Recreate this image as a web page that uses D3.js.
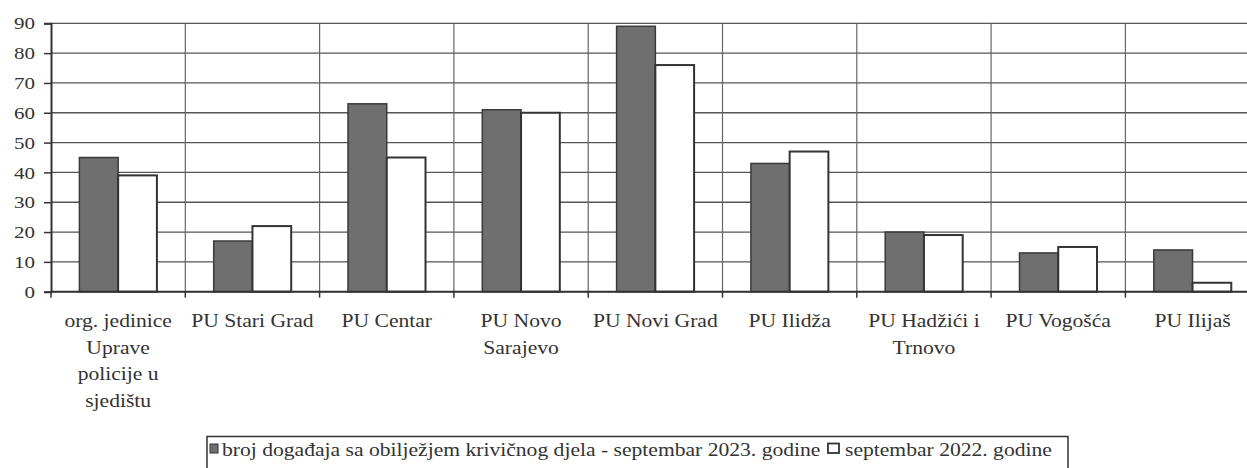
<!DOCTYPE html>
<html>
<head>
<meta charset="utf-8">
<script src="https://cdn.jsdelivr.net/npm/d3@7"></script>
<style>
body { margin: 0; background: #fff; }
text { font-family: "Liberation Serif", "Times New Roman", serif; fill: #333; }
</style>
</head>
<body>
<script>
var categories = ["org. jedinice Uprave policije u sjedištu", "PU Stari Grad", "PU Centar", "PU Novo Sarajevo", "PU Novi Grad", "PU Ilidža", "PU Hadžići i Trnovo", "PU Vogošća", "PU Ilijaš"];
var categoryLines = [["org. jedinice", "Uprave", "policije u", "sjedištu"], ["PU Stari Grad"], ["PU Centar"], ["PU Novo", "Sarajevo"], ["PU Novi Grad"], ["PU Ilidža"], ["PU Hadžići i", "Trnovo"], ["PU Vogošća"], ["PU Ilijaš"]];
var values2023 = [45, 17, 63, 61, 89, 43, 20, 13, 14];
var values2022 = [39, 22, 45, 60, 76, 47, 19, 15, 3];
var seriesNames = ["broj događaja sa obilježjem krivičnog djela - septembar 2023. godine", "septembar 2022. godine"];
var yTicks = [0, 10, 20, 30, 40, 50, 60, 70, 80, 90];

var W = 1247, H = 468;
var plotLeft = 51, plotTop = 23.3, plotBottom = 291.7, bandW = 134.3;
var plotRight = plotLeft + bandW * categories.length;

var svg = d3.select("body").append("svg").attr("width", W).attr("height", H);

var x = d3.scaleBand().domain(categories).range([plotLeft, plotRight]).paddingInner(0).paddingOuter(0);
var y = d3.scaleLinear().domain([0, 90]).range([plotBottom, plotTop]);
var groupW = 77.5;
var x1 = d3.scaleBand().domain([0, 1]).range([(bandW - groupW) / 2, (bandW + groupW) / 2]);

// horizontal grid
svg.selectAll("line.hgrid").data(yTicks).enter().append("line")
  .attr("x1", plotLeft).attr("x2", plotRight)
  .attr("y1", function(d){ return y(d); }).attr("y2", function(d){ return y(d); })
  .attr("stroke", "#555").attr("stroke-width", 1.3);

// vertical grid at category boundaries
svg.selectAll("line.vgrid").data(categories.slice(1)).enter().append("line")
  .attr("x1", function(d){ return x(d); }).attr("x2", function(d){ return x(d); })
  .attr("y1", plotTop).attr("y2", plotBottom)
  .attr("stroke", "#666").attr("stroke-width", 1.2);

// y axis
var yAxis = d3.axisLeft(y).tickValues(yTicks).tickSize(7).tickPadding(9);
var gy = svg.append("g").attr("transform", "translate(" + plotLeft + ",0)").call(yAxis);
gy.select(".domain").attr("stroke", "#333").attr("stroke-width", 2);
gy.selectAll(".tick line").attr("stroke", "#333").attr("stroke-width", 1.5);
gy.selectAll(".tick text").attr("font-size", 17.5).attr("fill", "#333")
  .attr("font-family", "Liberation Serif, serif")
  .each(function(){
    var t = d3.select(this);
    var xx = +t.attr("x");
    t.attr("x", null).attr("transform", "translate(" + xx + ",0) scale(1.2,1)");
  });

// bars
var groups = svg.selectAll("g.cat").data(categories).enter().append("g")
  .attr("transform", function(d){ return "translate(" + x(d) + ",0)"; });

groups.append("rect")
  .attr("x", x1(0)).attr("width", x1.bandwidth())
  .attr("y", function(d, i){ return y(values2023[i]); })
  .attr("height", function(d, i){ return plotBottom - y(values2023[i]); })
  .attr("fill", "#6f6f6f").attr("stroke", "#3a3a3a").attr("stroke-width", 1.5);

groups.append("rect")
  .attr("x", x1(1)).attr("width", x1.bandwidth())
  .attr("y", function(d, i){ return y(values2022[i]); })
  .attr("height", function(d, i){ return plotBottom - y(values2022[i]); })
  .attr("fill", "#fff").attr("stroke", "#333").attr("stroke-width", 2);

// x axis
svg.append("line").attr("x1", plotLeft).attr("x2", plotRight).attr("y1", plotBottom).attr("y2", plotBottom)
  .attr("stroke", "#333").attr("stroke-width", 2);
svg.selectAll("line.xtick").data(categories).enter().append("line")
  .attr("x1", function(d){ return x(d); }).attr("x2", function(d){ return x(d); })
  .attr("y1", plotBottom).attr("y2", plotBottom + 6)
  .attr("stroke", "#333").attr("stroke-width", 1.5);

// x labels
groups.each(function(d, i){
  var g = d3.select(this);
  categoryLines[i].forEach(function(line, k){
    g.append("text")
      .attr("transform", "translate(" + (bandW / 2) + "," + (327 + k * 26.7) + ") scale(1.2,1)")
      .attr("text-anchor", "middle").attr("font-size", 18)
      .text(line);
  });
});

// legend
var lg = svg.append("g");
lg.append("rect").attr("x", 207).attr("y", 436.5).attr("width", 861).attr("height", 40)
  .attr("fill", "#fff").attr("stroke", "#333").attr("stroke-width", 1.5);
lg.append("rect").attr("x", 210).attr("y", 444).attr("width", 8).attr("height", 9)
  .attr("fill", "#6f6f6f").attr("stroke", "#333").attr("stroke-width", 1);
lg.append("text").attr("transform", "translate(222,456) scale(1.2,1)")
  .attr("font-size", 18).text(seriesNames[0]);
lg.append("rect").attr("x", 828).attr("y", 443.5).attr("width", 11).attr("height", 9.5)
  .attr("fill", "#fff").attr("stroke", "#333").attr("stroke-width", 1.8);
lg.append("text").attr("transform", "translate(845,456) scale(1.2,1)")
  .attr("font-size", 18).text(seriesNames[1]);
</script>
</body>
</html>
